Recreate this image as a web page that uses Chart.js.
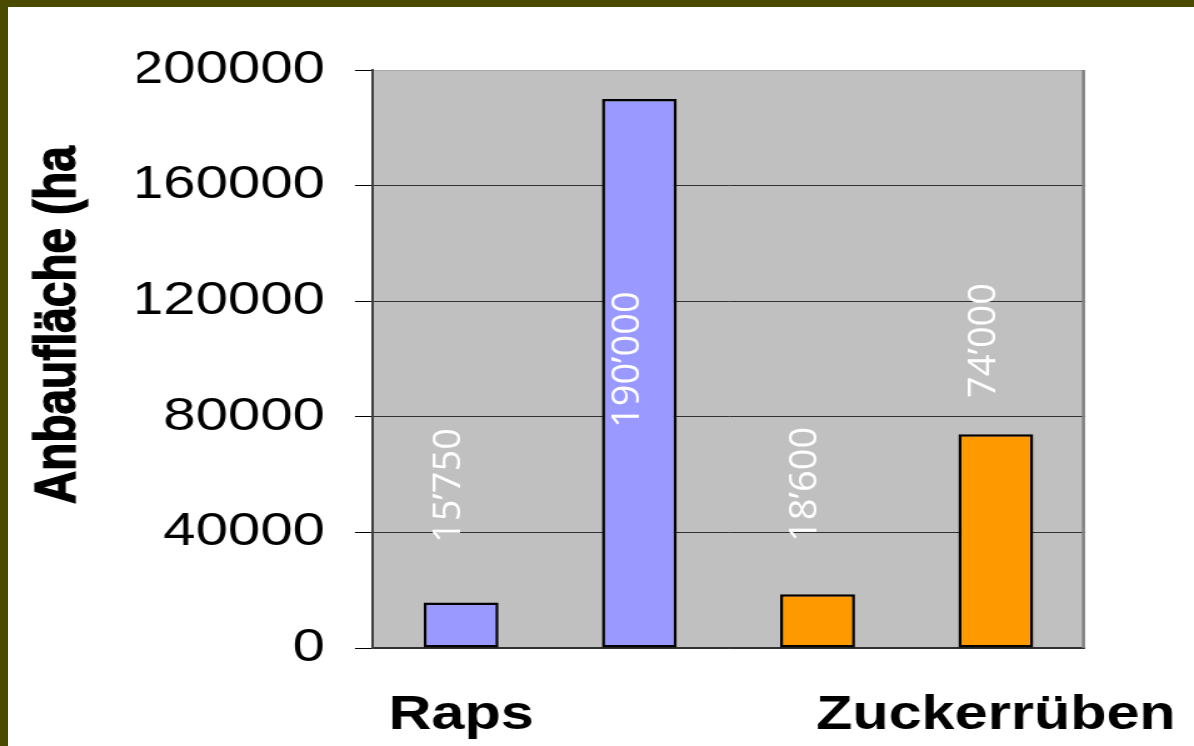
<!DOCTYPE html>
<html><head><meta charset="utf-8">
<script src="https://cdn.jsdelivr.net/npm/chart.js@4.4.0/dist/chart.umd.min.js"></script>
<style>
html,body{margin:0;padding:0;background:#fff;overflow:hidden;width:1194px;height:746px}
#c{position:absolute;left:0;top:0;transform:scaleX(1.25026);transform-origin:0 0}
.ft{position:absolute;left:0;top:0;width:1194px;height:7px;background:#4b4b00}
.fl{position:absolute;left:0;top:0;width:8px;height:746px;background:#4b4b00}
</style></head><body>
<canvas id="c" width="955" height="746"></canvas>
<div class="ft"></div><div class="fl"></div>
<script>
const categories = ['Raps', '', '', 'Zuckerrüben'];
const values = [15750, 190000, 18600, 74000];
const valueLabels = ['15’750', '190’000', '18’600', '74’000'];
const yTicks = [0, 40000, 80000, 120000, 160000, 200000];
const yTitle = 'Anbaufläche (ha';

const S = 1.25026;

const plotBg = {
  id: 'plotBg',
  beforeDraw(chart) {
    const {ctx, chartArea: a} = chart;
    ctx.save();
    ctx.fillStyle = '#c0c0c0';
    ctx.fillRect(a.left, a.top, a.right - a.left, a.bottom - a.top);
    ctx.restore();
  },
  beforeDatasetsDraw(chart) {
    const {ctx, chartArea: a} = chart;
    ctx.save();
    ctx.strokeStyle = '#808080';
    ctx.lineWidth = 2.4;
    ctx.beginPath();
    ctx.moveTo(a.right - 1.2, a.top);
    ctx.lineTo(a.right - 1.2, a.bottom);
    ctx.stroke();
    ctx.restore();
  }
};

const yTitlePlugin = {
  id: 'yTitlePlugin',
  afterDraw(chart, args, opts) {
    const ctx = chart.ctx;
    ctx.save();
    ctx.translate(opts.x, opts.y);
    ctx.rotate(-Math.PI / 2);
    ctx.font = 'bold 46px "Liberation Sans", Arial, sans-serif';
    ctx.fillStyle = '#000';
    ctx.strokeStyle = '#000';
    ctx.lineWidth = 1.2;
    ctx.textAlign = 'center';
    ctx.textBaseline = 'alphabetic';
    ctx.fillText(yTitle, 0, 0);
    ctx.strokeText(yTitle, 0, 0);
    ctx.restore();
  }
};

const valueLabelPlugin = {
  id: 'valueLabelPlugin',
  afterDatasetsDraw(chart, args, opts) {
    const ctx = chart.ctx;
    const meta = chart.getDatasetMeta(0);
    const ys = chart.scales.y;
    const size = opts.size;
    meta.data.forEach((bar, i) => {
      const x = bar.x + opts.dx;
      const y = ys.getPixelForValue(opts.start[i]);
      ctx.save();
      ctx.translate(x, y);
      ctx.scale(1 / S, 1);
      ctx.rotate(-Math.PI / 2);
      ctx.font = '500 ' + size + 'px "Open Sans", "Noto Sans", sans-serif';
      ctx.fillStyle = '#ffffff';
      ctx.textAlign = 'left';
      ctx.textBaseline = 'alphabetic';
      ctx.fillText(valueLabels[i], 0, 0.357 * size);
      ctx.restore();
    });
  }
};

new Chart(document.getElementById('c'), {
  type: 'bar',
  data: {
    labels: categories,
    datasets: [{
      data: values,
      backgroundColor: ['#9999ff', '#9999ff', '#ff9900', '#ff9900'],
      borderColor: '#000',
      borderWidth: 2.5,
      borderSkipped: false,
      barPercentage: 0.42,
      categoryPercentage: 1
    }]
  },
  options: {
    responsive: false,
    animation: false,
    layout: { padding: { left: 109.9, right: 87.2, top: 70, bottom: 2 } },
    plugins: {
      legend: { display: false },
      tooltip: { enabled: false },
      yTitlePlugin: { x: 60, y: 325 },
      valueLabelPlugin: { dx: -11.5, size: 38, start: [36300, 76100, 36700, 86500] }
    },
    scales: {
      x: {
        afterFit: (s) => { s.height = 96; s.paddingLeft = 0; s.paddingRight = 0; },
        ticks: {
          font: { family: 'Liberation Sans', size: 47.5, weight: 'bold' },
          color: '#000', padding: 39, maxRotation: 0, minRotation: 0, autoSkip: false
        },
        grid: { display: false, drawTicks: false },
        border: { color: '#303030', width: 1.5 }
      },
      y: {
        min: 0, max: 200000,
        afterFit: (s) => { s.width = 187.6; s.paddingTop = 0; s.paddingBottom = 0; },
        afterBuildTicks: (s) => { s.ticks = yTicks.map(v => ({ value: v })); },
        ticks: {
          font: { family: 'Liberation Sans', size: 46.5 },
          color: '#000', padding: 24,
          callback: (v) => String(v)
        },
        grid: {
          color: (c) => (c.tick && c.tick.value === 200000) ? '#a8a8a8' : '#303030',
          lineWidth: 1, tickLength: 13.6, tickColor: '#000', tickWidth: 1
        },
        border: { color: '#404040', width: 2 }
      }
    }
  },
  plugins: [plotBg, yTitlePlugin, valueLabelPlugin]
});
</script>
</body></html>
